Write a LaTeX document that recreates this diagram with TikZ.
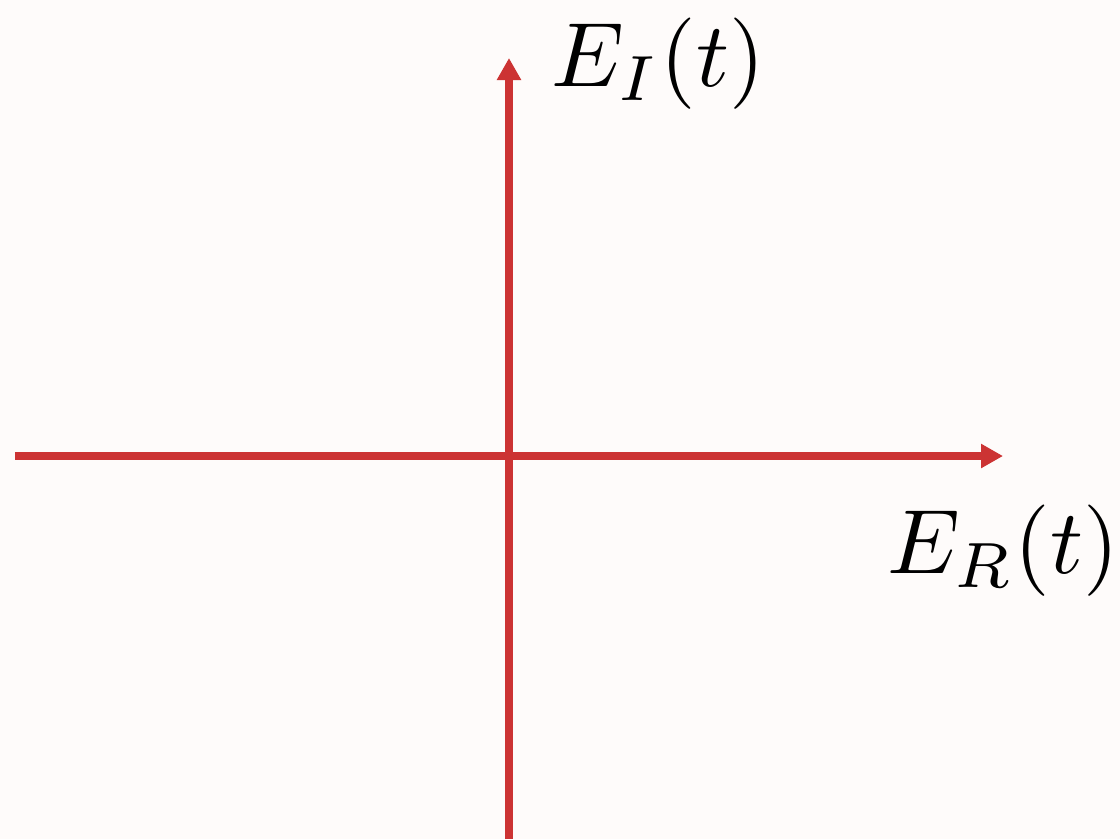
\documentclass[tikz,border=0pt]{standalone}
\usepackage{amsmath}
\usepackage{tikz}
\usetikzlibrary{arrows.meta,positioning}
\definecolor{axisred}{RGB}{204,51,51}
\definecolor{paper}{RGB}{254,251,250}

\begin{document}
\begin{tikzpicture}[
    ax/.style={draw=axisred, line width=2.3pt, -{Triangle[length=2.2mm, width=2.3mm]}},
    lbl/.style={scale=2.6, inner sep=0pt}]
\fill[paper] (-5.09,-3.83) rectangle (6.11,4.56);
\useasboundingbox (-5.09,-3.83) rectangle (6.11,4.56);
\coordinate (o) at (0,0);
\coordinate (xl) at (-4.94,0);
\coordinate (xr) at (4.94,0);
\coordinate (yb) at (0,-3.83);
\coordinate (yt) at (0,3.98);
\draw[ax] (xl) -- (xr);
\draw[ax] (yb) -- (yt);
\node[lbl] (er) at (4.94,-0.95) {$E_R(t)$};
\node[lbl] (ei) at (1.49,3.92) {$E_I(t)$};
\end{tikzpicture}
\end{document}
